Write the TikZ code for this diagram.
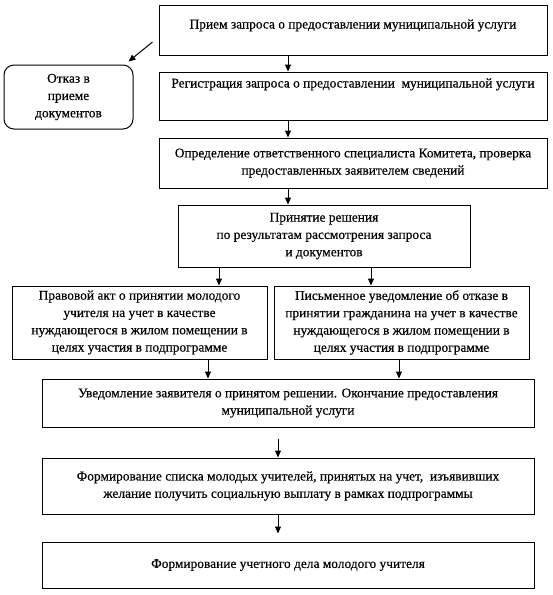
\documentclass[tikz,border=0pt]{standalone}
\usepackage{fontspec}
\setmainfont{Liberation Serif}
\newfontfamily\thickserif{Liberation Serif}[FakeBold=0.35]
\usetikzlibrary{arrows.meta}
\begin{document}
\begin{tikzpicture}[x=1pt,y=-1pt,
  box/.style={draw, line width=1pt, inner sep=0pt, align=center,
    font=\thickserif\fontsize{13.4}{17.3}\selectfont},
  arr/.style={-{Triangle[length=7pt,width=6pt]}, line width=1pt}]
\useasboundingbox (0,0) rectangle (553,595);
\fill[white] (0,0) rectangle (553,595);
\node[box, minimum width=388, text height=23.5, text depth=26.5] (b1) at (353,30)
  {Прием запроса о предоставлении муниципальной услуги};
\node[box, minimum width=388, text height=15.5, text depth=32.5] (b2) at (353,96)
  {Регистрация запроса о предоставлении \ муниципальной услуги};
\node[box, minimum width=388, minimum height=50] (b3) at (353,163)
  {Определение ответственного специалиста Комитета, проверка\\предоставленных заявителем сведений};
\node[box, minimum width=292, minimum height=62] (b4) at (324,236)
  {Принятие решения\\по результатам рассмотрения запроса\\и документов};
\node[box, minimum width=255, minimum height=73] (b5) at (139.5,322.5)
  {Правовой акт о принятии молодого\\учителя на учет в качестве\\нуждающегося в жилом помещении в\\целях участия в подпрограмме};
\node[box, minimum width=255, minimum height=73] (b6) at (401.5,322.5)
  {Письменное уведомление об отказе в\\принятии гражданина на учет в качестве\\нуждающегося в жилом помещении в\\целях участия в подпрограмме};
\node[box, minimum width=492, minimum height=48] (b7) at (288,403)
  {Уведомление заявителя о принятом решении. Окончание предоставления\\муниципальной услуги};
\node[box, minimum width=492, minimum height=56] (b8) at (288,486)
  {Формирование списка молодых учителей, принятых на учет, \ изъявивших\\желание получить социальную выплату в рамках подпрограммы};
\node[box, minimum width=492, minimum height=46] (b9) at (288,565)
  {Формирование учетного дела молодого учителя};
\node[box, rounded corners=10pt, minimum width=129, minimum height=64] (r) at (68.5,97)
  {Отказ в\\приеме\\документов};
\draw[arr] ([xshift=-65pt]b1.south) -- ([xshift=-65pt]b2.north);
\draw[arr] ([xshift=-65pt]b2.south) -- ([xshift=-65pt]b3.north);
\draw[arr] ([xshift=-65pt]b3.south) -- ([xshift=-36pt]b4.north);
\draw[arr] ([xshift=-105pt]b4.south) -- ([xshift=79.5pt]b5.north);
\draw[arr] ([xshift=47pt]b4.south) -- ([xshift=-30.5pt]b6.north);
\draw[arr] ([xshift=68.5pt]b5.south) -- ([xshift=-80pt]b7.north);
\draw[arr] ([xshift=-2.5pt]b6.south) -- ([xshift=111pt]b7.north);
\draw[arr, shorten <=11pt] ([xshift=-10pt]b7.south) -- ([xshift=-10pt]b8.north);
\draw[arr, shorten >=8pt] ([xshift=-10pt]b8.south) -- ([xshift=-10pt]b9.north);
\draw[arr] ([xshift=-6pt,yshift=-12pt]b1.west) -- ([xshift=-5pt,yshift=3pt]r.north east);
\end{tikzpicture}
\end{document}
